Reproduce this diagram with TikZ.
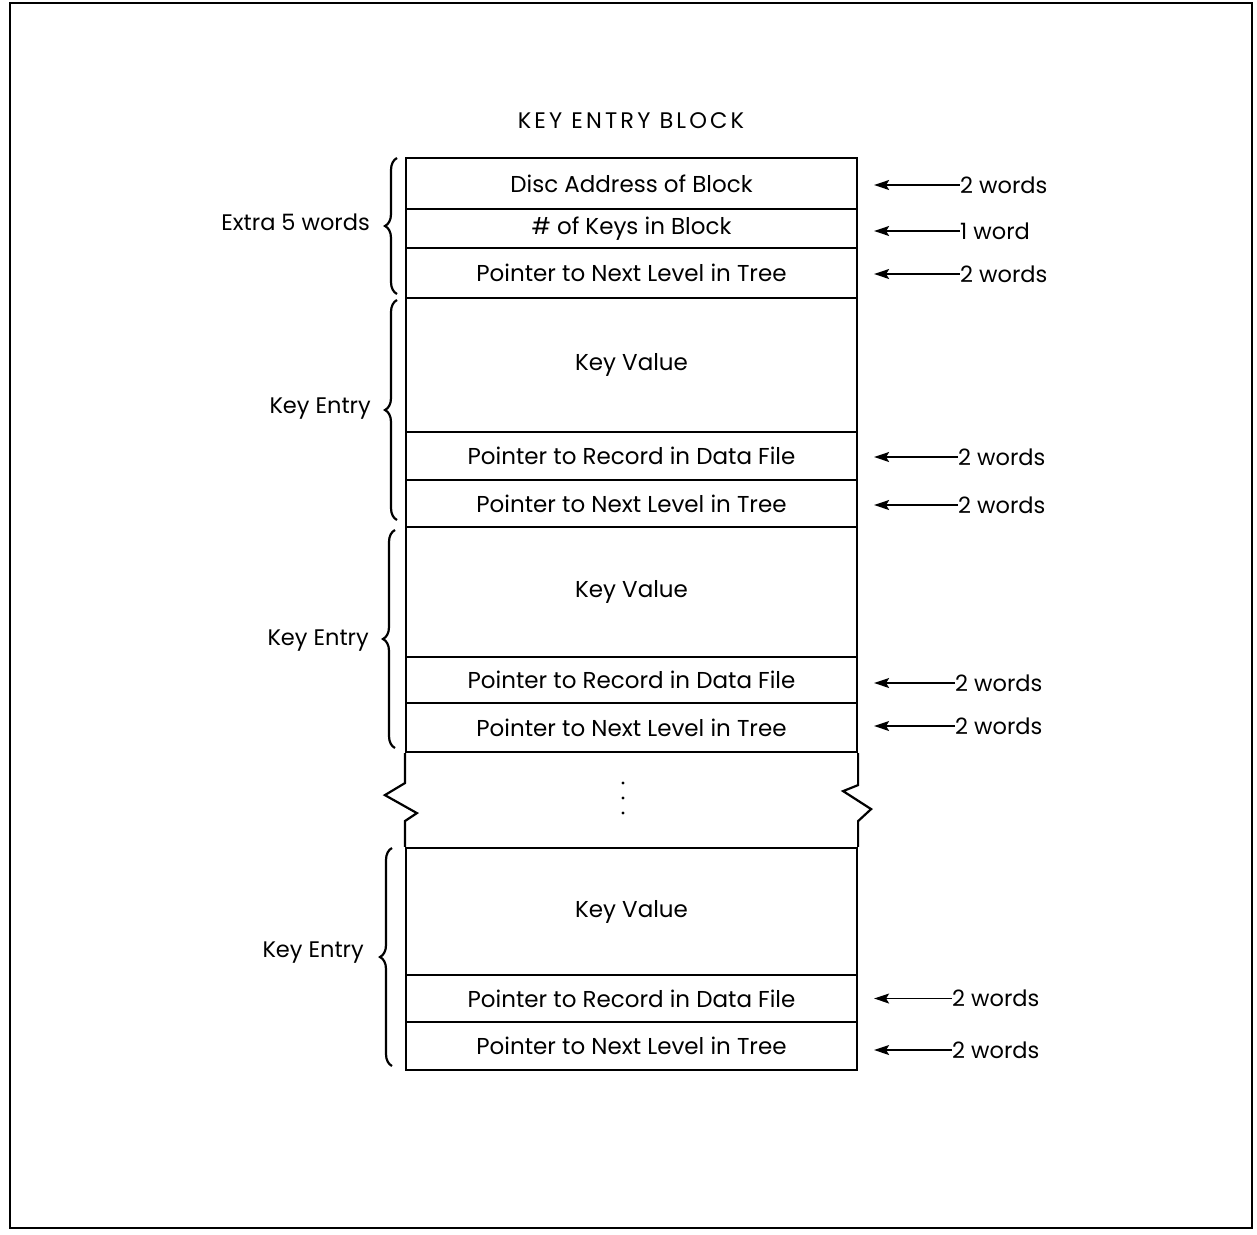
\documentclass[tikz,border=0pt]{standalone}
\usepackage{fontspec}
\setmainfont{Poppins}
\usetikzlibrary{arrows.meta,decorations.pathreplacing}

\begin{document}
\begin{tikzpicture}[x=1pt,y=-1pt]
\tikzset{
  blockrow/.style={rectangle,draw=black,line width=2.2pt,minimum width=451pt,inner sep=0pt,font=\fontsize{23}{26}\selectfont},
  sidelabel/.style={font=\fontsize{22.5}{26}\selectfont,inner sep=0pt},
  sizearrow/.style={draw=black,line width=1.4pt,shorten >=16pt,-{Stealth[length=15pt,width=10pt,inset=3pt]}},
  entrybrace/.style={draw=black,line width=2.2pt,decorate,decoration={brace,amplitude=12pt,aspect=0.5}},
  breakedge/.style={draw=black,line width=2.2pt,line join=miter}
}
\useasboundingbox (0,0) rectangle (1257,1234);
\draw[line width=2pt] (10,3) rectangle (1252,1228);
\node[sidelabel] (n_title) at (631,121) {\addfontfeature{LetterSpace=14}KEY ENTRY BLOCK};
% header words
\node[blockrow,minimum height=51pt] (n_r1) at (631.5,183.5) {Disc Address of Block};
\node[blockrow,minimum height=39pt] (n_r2) at (631.5,228.5) {\# of Keys in Block};
\node[blockrow,minimum height=50pt] (n_r3) at (631.5,273) {Pointer to Next Level in Tree};
% first key entry
\node[blockrow,minimum height=134pt] (n_r4) at (631.5,365) {Key Value};
\node[blockrow,minimum height=48pt] (n_r5) at (631.5,456) {Pointer to Record in Data File};
\node[blockrow,minimum height=47pt] (n_r6) at (631.5,503.5) {Pointer to Next Level in Tree};
% second key entry
\node[blockrow,minimum height=130pt] (n_r7) at (631.5,592) {Key Value};
\node[blockrow,minimum height=46pt] (n_r8) at (631.5,680) {Pointer to Record in Data File};
\node[blockrow,minimum height=49pt] (n_r9) at (631.5,727.5) {Pointer to Next Level in Tree};
% last key entry
\node[blockrow,minimum height=127pt] (n_r10) at (631.5,911.5) {Key Value};
\node[blockrow,minimum height=47pt] (n_r11) at (631.5,998.5) {Pointer to Record in Data File};
\node[blockrow,minimum height=48pt] (n_r12) at (631.5,1046) {Pointer to Next Level in Tree};
% broken part
\draw[breakedge] (n_r9.south west) -- ++(0,30) -- ++(-20,12) -- ++(32,18) -- ++(-12,8) -- (n_r10.north west);
\draw[breakedge] (n_r9.south east) -- ++(0,32) -- ++(-15,6) -- ++(28,18) -- ++(-13,12) -- (n_r10.north east);
\fill (623,783) circle (1.6pt) (623,798) circle (1.6pt) (623,813) circle (1.6pt);
% sizes
\node[sidelabel,anchor=west] (w_1) at (960,185) {2 words};
\node[sidelabel,anchor=west] (w_2) at (960,231) {1 word};
\node[sidelabel,anchor=west] (w_3) at (960,274) {2 words};
\node[sidelabel,anchor=west] (w_5) at (958,457) {2 words};
\node[sidelabel,anchor=west] (w_6) at (958,505) {2 words};
\node[sidelabel,anchor=west] (w_8) at (955,683) {2 words};
\node[sidelabel,anchor=west] (w_9) at (955,726) {2 words};
\node[sidelabel,anchor=west] (w_11) at (952,998.5) {2 words};
\node[sidelabel,anchor=west] (w_12) at (952,1050) {2 words};
\draw[sizearrow] (w_1.west) -- (w_1.west -| n_r1.east);
\draw[sizearrow] (w_2.west) -- (w_2.west -| n_r2.east);
\draw[sizearrow] (w_3.west) -- (w_3.west -| n_r3.east);
\draw[sizearrow] (w_5.west) -- (w_5.west -| n_r5.east);
\draw[sizearrow] (w_6.west) -- (w_6.west -| n_r6.east);
\draw[sizearrow] (w_8.west) -- (w_8.west -| n_r8.east);
\draw[sizearrow] (w_9.west) -- (w_9.west -| n_r9.east);
\draw[sizearrow] (w_11.west) -- (w_11.west -| n_r11.east);
\draw[sizearrow] (w_12.west) -- (w_12.west -| n_r12.east);
% braces
\coordinate (b_1s) at (397,294);
\coordinate (b_1e) at (397,158);
\coordinate (b_2s) at (397,520);
\coordinate (b_2e) at (397,300);
\coordinate (b_3s) at (395,748);
\coordinate (b_3e) at (395,530);
\coordinate (b_4s) at (392,1066);
\coordinate (b_4e) at (392,848);
\draw[entrybrace] (b_1s) -- (b_1e);
\draw[entrybrace] (b_2s) -- (b_2e);
\draw[entrybrace] (b_3s) -- (b_3e);
\draw[entrybrace] (b_4s) -- (b_4e);
\node[sidelabel,anchor=east] (l_1) at (370,222) {Extra 5 words};
\node[sidelabel,anchor=east] (l_2) at (371,409) {Key Entry};
\node[sidelabel,anchor=east] (l_3) at (369,641) {Key Entry};
\node[sidelabel,anchor=east] (l_4) at (364,953) {Key Entry};
\end{tikzpicture}
\end{document}
